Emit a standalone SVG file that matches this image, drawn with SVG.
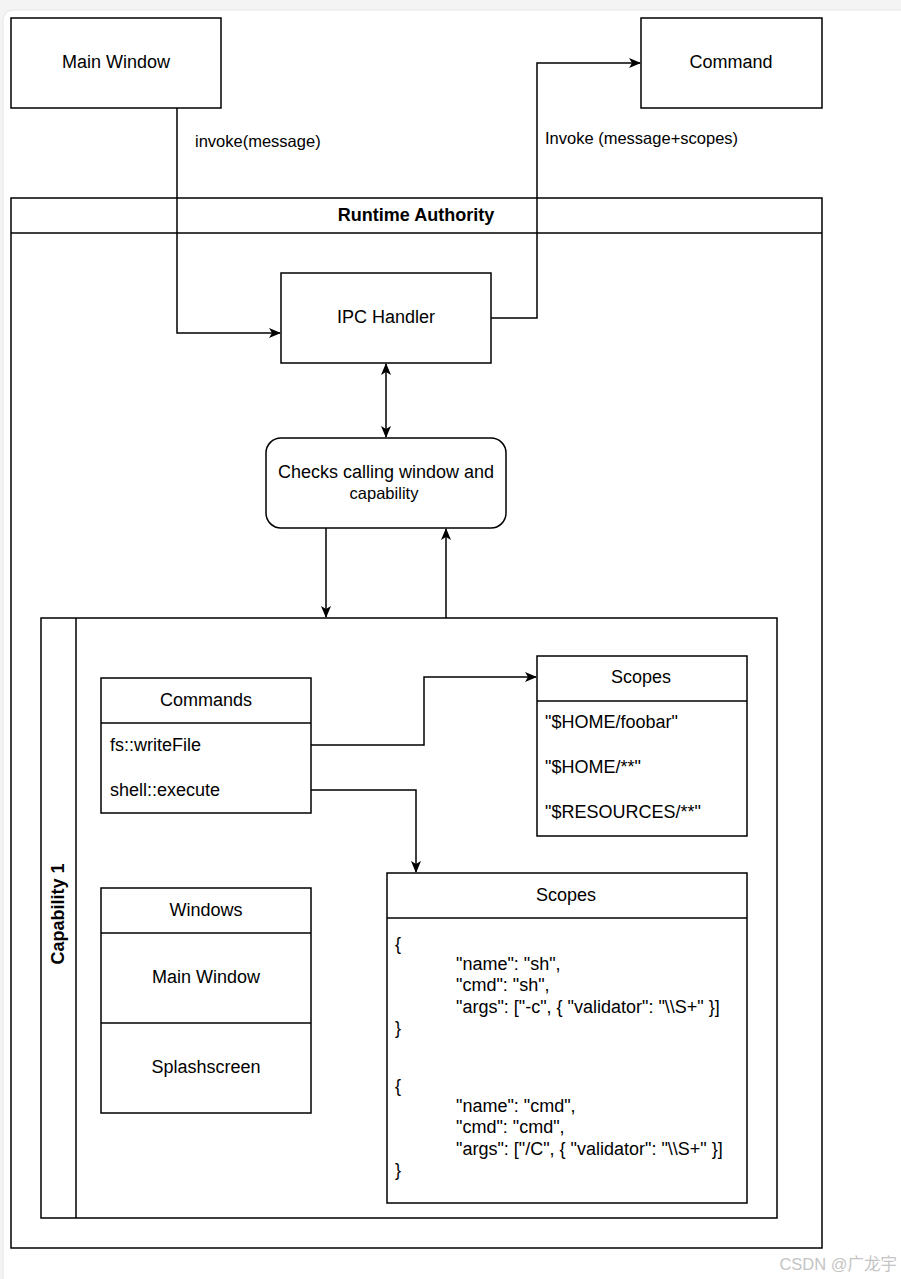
<svg xmlns="http://www.w3.org/2000/svg" width="901" height="1279" viewBox="0 0 901 1279">
<defs>
<marker id="arr" viewBox="0 0 12 10" refX="11" refY="5" markerWidth="12" markerHeight="10" markerUnits="userSpaceOnUse" orient="auto-start-reverse">
<path d="M0,0 L12,5 L0,10 L3,5 Z" fill="#000"/>
</marker>
<style>
.b{fill:#fff;stroke:#000;stroke-width:1.5}
.l{fill:none;stroke:#000;stroke-width:1.5}
.t{font-family:"Liberation Sans",Arial,sans-serif;font-size:18px;fill:#000}
.c{text-anchor:middle}
.s{font-size:16.5px}
.bold{font-weight:bold}
</style>
</defs>
<rect x="0" y="0" width="901" height="1279" fill="#f4f4f4"/>
<rect x="3" y="10" width="920" height="1300" rx="10" fill="#fff" stroke="#e6e6e6"/>

<g id="main-window">
<rect class="b" x="11" y="18" width="210" height="90"/>
<text class="t c" x="116" y="68">Main Window</text>
</g>
<g id="command">
<rect class="b" x="641" y="18" width="181" height="90"/>
<text class="t c" x="731" y="68">Command</text>
</g>
<g id="runtime-authority">
<rect class="b" x="11" y="198" width="811" height="1050"/>
<line class="l" x1="11" y1="233" x2="822" y2="233"/>
<text class="t c bold" x="416" y="221">Runtime Authority</text>
</g>
<g id="ipc-handler">
<rect class="b" x="281" y="273" width="210" height="90"/>
<text class="t c" x="386" y="323">IPC Handler</text>
</g>
<g id="checks">
<rect class="b" x="266" y="438" width="240" height="90" rx="15"/>
<text class="t c" x="386" y="478">Checks calling window and</text>
<text class="t c s" x="384" y="499">capability</text>
</g>
<g id="capability-1">
<rect class="b" x="41" y="618" width="736" height="600"/>
<line class="l" x1="76" y1="618" x2="76" y2="1218"/>
<text class="t c bold" transform="translate(64,914) rotate(-90)">Capability 1</text>
</g>
<g id="commands">
<rect class="b" x="101" y="678" width="210" height="135"/>
<line class="l" x1="101" y1="723" x2="311" y2="723"/>
<text class="t c" x="206" y="706">Commands</text>
<text class="t" x="110" y="751">fs::writeFile</text>
<text class="t" x="110" y="796">shell::execute</text>
</g>
<g id="scopes-fs">
<rect class="b" x="537" y="656" width="210" height="180"/>
<line class="l" x1="537" y1="701" x2="747" y2="701"/>
<text class="t c" x="641" y="683">Scopes</text>
<text class="t" x="545" y="728">"$HOME/foobar"</text>
<text class="t" x="545" y="773">"$HOME/**"</text>
<text class="t" x="545" y="818">"$RESOURCES/**"</text>
</g>
<g id="scopes-shell">
<rect class="b" x="387" y="873" width="360" height="330"/>
<line class="l" x1="387" y1="918" x2="747" y2="918"/>
<text class="t c" x="566" y="901">Scopes</text>
<text class="t" x="395" y="950">{</text>
<text class="t" x="456" y="970">"name": "sh",</text>
<text class="t" x="456" y="991">"cmd": "sh",</text>
<text class="t" x="456" y="1013">"args": ["-c", { "validator": "\\S+" }]</text>
<text class="t" x="395" y="1034">}</text>
<text class="t" x="395" y="1092">{</text>
<text class="t" x="456" y="1112">"name": "cmd",</text>
<text class="t" x="456" y="1133">"cmd": "cmd",</text>
<text class="t" x="456" y="1155">"args": ["/C", { "validator": "\\S+" }]</text>
<text class="t" x="395" y="1176">}</text>
</g>
<g id="windows">
<rect class="b" x="101" y="888" width="210" height="225"/>
<line class="l" x1="101" y1="933" x2="311" y2="933"/>
<line class="l" x1="101" y1="1023" x2="311" y2="1023"/>
<text class="t c" x="206" y="916">Windows</text>
<text class="t c" x="206" y="983">Main Window</text>
<text class="t c" x="206" y="1073">Splashscreen</text>
</g>

<g id="connectors">
<path class="l" d="M177,108 V333 H280" marker-end="url(#arr)"/>
<text class="t s" x="195" y="147">invoke(message)</text>
<path class="l" d="M491,318 H537 V63 H640" marker-end="url(#arr)"/>
<text class="t s" x="545" y="144">Invoke (message+scopes)</text>
<path class="l" d="M386,364 V437" marker-start="url(#arr)" marker-end="url(#arr)"/>
<path class="l" d="M326,528 V617" marker-end="url(#arr)"/>
<path class="l" d="M446,618 V529" marker-end="url(#arr)"/>
<path class="l" d="M311,745 H424 V677 H536" marker-end="url(#arr)"/>
<path class="l" d="M311,790 H416 V872" marker-end="url(#arr)"/>
</g>

<text x="897" y="1270" text-anchor="end" font-family="Liberation Sans,'Noto Sans CJK SC',sans-serif" font-size="16.5" fill="#c4c4c4">CSDN @广龙宇</text>
</svg>
